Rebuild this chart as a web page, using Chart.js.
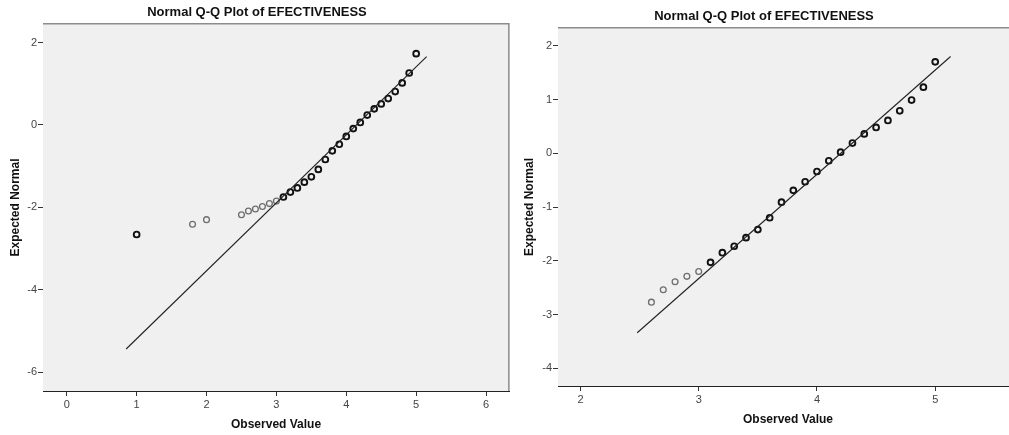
<!DOCTYPE html>
<html>
<head>
<meta charset="utf-8">
<title>Normal Q-Q Plot of EFECTIVENESS</title>
<script src="https://cdn.jsdelivr.net/npm/chart.js@4/dist/chart.umd.min.js"></script>
<style>
    html, body { margin: 0; padding: 0; background: #fff; }
    body { width: 1009px; height: 435px; position: relative; overflow: hidden; }
    canvas { position: absolute; top: 0; }
    #qq-left { left: 0; }
    #qq-right { left: 510px; }
</style>
</head>
<body>
<canvas id="qq-left" width="515" height="435"></canvas>
<canvas id="qq-right" width="516" height="435"></canvas>
<script>
    "use strict";

    // Left plot data
    const leftObserved = [1.0, 1.8, 2.0, 2.5, 2.6, 2.7, 2.8, 2.9, 3.0, 3.1, 3.2, 3.3, 3.4, 3.5, 3.6,
        3.7, 3.8, 3.9, 4.0, 4.1, 4.2, 4.3, 4.4, 4.5, 4.6, 4.7, 4.8, 4.9, 5.0];
    const leftExpected = [-2.66, -2.41, -2.30, -2.18, -2.09, -2.04, -1.98, -1.91, -1.85, -1.75, -1.63,
        -1.53, -1.39, -1.26, -1.08, -0.84, -0.63, -0.47, -0.28, -0.09, 0.06, 0.24, 0.39, 0.51, 0.64,
        0.81, 1.02, 1.26, 1.73];
    const leftSingleCases = [1.8, 2.0, 2.5, 2.6, 2.7, 2.8, 2.9, 3.0];
    const leftLineX = [0.85, 5.15];
    const leftLineY = [-5.44, 1.66];
    const leftXTicks = [0, 1, 2, 3, 4, 5, 6];
    const leftYTicks = [-6, -4, -2, 0, 2];

    // Right plot data
    const rightObserved = [2.6, 2.7, 2.8, 2.9, 3.0, 3.1, 3.2, 3.3, 3.4, 3.5, 3.6, 3.7, 3.8, 3.9,
        4.0, 4.1, 4.2, 4.3, 4.4, 4.5, 4.6, 4.7, 4.8, 4.9, 5.0];
    const rightExpected = [-2.77, -2.54, -2.39, -2.29, -2.20, -2.03, -1.85, -1.73, -1.57, -1.42, -1.20,
        -0.91, -0.69, -0.53, -0.34, -0.14, 0.02, 0.19, 0.36, 0.48, 0.61, 0.79, 0.99, 1.23, 1.70];
    const rightSingleCases = [2.6, 2.7, 2.8, 2.9, 3.0];
    const rightLineX = [2.48, 5.13];
    const rightLineY = [-3.34, 1.80];
    const rightXTicks = [2, 3, 4, 5];
    const rightYTicks = [-4, -3, -2, -1, 0, 1, 2];

    const FONT = "'Liberation Sans', Arial, sans-serif";

    // Grey plot background + top/right frame
    const plotFrame = {
        id: 'plotFrame',
        beforeDatasetsDraw: function (chart) {
            const ctx = chart.ctx, a = chart.chartArea;
            ctx.save();
            ctx.fillStyle = '#f0f0f0';
            ctx.fillRect(a.left, a.top, a.right - a.left, a.bottom - a.top);
            ctx.restore();
        },
        afterDraw: function (chart) {
            const ctx = chart.ctx, a = chart.chartArea;
            ctx.save();
            ctx.fillStyle = '#8c8c8c';
            ctx.fillRect(a.left, a.top - 1, a.right - a.left, 1.5);
            ctx.fillRect(a.right - 1, a.top - 1, 1.5, a.bottom - a.top + 1);
            ctx.restore();
        }
    };

    const toPoints = function (xs, ys) {
        return xs.map(function (x, i) { return { x: x, y: ys[i] }; });
    };

    var qqChart = function (id, o) {
        const ctx = document.getElementById(id).getContext('2d');
        const isSingle = function (c) { return c.raw && o.single.indexOf(c.raw.x) !== -1; };
        return new Chart(ctx, {
            type: 'scatter',
            data: {
                datasets: [{
                    data: toPoints(o.lineX, o.lineY),
                    showLine: true,
                    borderColor: '#222',
                    borderWidth: 1.1,
                    pointRadius: 0,
                }, {
                    data: toPoints(o.observed, o.expected),
                    pointRadius: 2.9,
                    pointBackgroundColor: 'rgba(0,0,0,0)',
                    pointBorderColor: function (c) { return isSingle(c) ? '#6e6e6e' : '#111'; },
                    pointBorderWidth: function (c) { return isSingle(c) ? 1.3 : 1.9; },
                }]
            },
            options: {
                responsive: false,
                animation: false,
                events: [],
                layout: { padding: { left: 0, top: 0, bottom: 0, right: o.padRight } },
                plugins: {
                    legend: { display: false },
                    tooltip: { enabled: false },
                    title: {
                        display: true,
                        text: 'Normal Q-Q Plot of EFECTIVENESS',
                        color: '#111',
                        font: { family: FONT, size: 13, weight: 'bold' },
                        padding: { top: o.titleTop, bottom: o.titleBottom },
                    },
                },
                scales: {
                    x: {
                        type: 'linear',
                        min: o.xMin, max: o.xMax,
                        afterFit: function (s) {
                            s.height = o.xHeight;
                            s.paddingLeft = 0;
                            s.paddingRight = 0;
                        },
                        afterBuildTicks: function (s) { s.ticks = o.xTicks.map(function (v) { return { value: v }; }); },
                        border: { display: true, color: '#222', width: 1 },
                        grid: { drawOnChartArea: false, tickLength: 5, color: '#333' },
                        ticks: { color: '#444', padding: 2, font: { family: FONT, size: 11 } },
                        title: {
                            display: true, text: 'Observed Value', color: '#111',
                            font: { family: FONT, size: 12, weight: 'bold' },
                            padding: { bottom: o.xTitlePad, top: 0 },
                        },
                    },
                    y: {
                        type: 'linear',
                        min: o.yMin, max: o.yMax,
                        afterFit: function (s) {
                            s.width = o.yWidth;
                            s.paddingTop = 0;
                            s.paddingBottom = 0;
                        },
                        afterBuildTicks: function (s) { s.ticks = o.yTicks.map(function (v) { return { value: v }; }); },
                        border: { display: true, color: '#222', width: 1 },
                        grid: { drawOnChartArea: false, tickLength: 5, color: '#333' },
                        ticks: { color: '#444', padding: 1, font: { family: FONT, size: 11 } },
                        title: {
                            display: true, text: 'Expected Normal', color: '#111',
                            font: { family: FONT, size: 12, weight: 'bold' },
                            padding: { top: o.yTitlePad, bottom: 0 },
                        },
                    },
                },
            },
            plugins: [plotFrame],
        });
    };

    qqChart('qq-left', {
        observed: leftObserved, expected: leftExpected, single: leftSingleCases,
        lineX: leftLineX, lineY: leftLineY, xTicks: leftXTicks, yTicks: leftYTicks,
        xMin: -0.34, xMax: 6.33, yMin: -6.46, yMax: 2.45,
        yWidth: 43, xHeight: 44, padRight: 1,
        titleTop: 5, titleBottom: 3.4, xTitlePad: 2.8, yTitlePad: 8.5,
    });

    qqChart('qq-right', {
        observed: rightObserved, expected: rightExpected, single: rightSingleCases,
        lineX: rightLineX, lineY: rightLineY, xTicks: rightXTicks, yTicks: rightYTicks,
        xMin: 1.81, xMax: 5.70, yMin: -4.33, yMax: 2.33,
        yWidth: 48, xHeight: 49, padRight: 8,
        titleTop: 9, titleBottom: 3.4, xTitlePad: 8.5, yTitlePad: 12.8,
    });
</script>
</body>
</html>
